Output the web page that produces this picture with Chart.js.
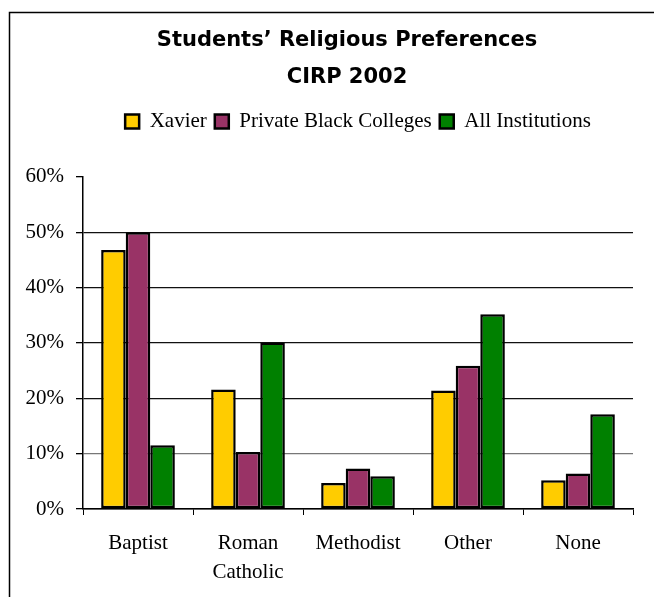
<!DOCTYPE html>
<html>
<head>
<meta charset="utf-8">
<script src="https://cdn.jsdelivr.net/npm/chart.js@4"></script>
<style>
  html, body { margin: 0; padding: 0; background: #fff; }
  #wrap { width: 654px; height: 597px; }
</style>
</head>
<body>
<div id="wrap"><canvas id="religionChart"></canvas></div>
<script>
// categories + series (percent)
const categories = ["Baptist", ["Roman", "Catholic"], "Methodist", "Other", "None"];
const xavier = [46.8, 21.6, 4.7, 21.4, 5.2];
const privateBlack = [50.0, 10.3, 7.3, 25.9, 6.4];
const allInstitutions = [11.5, 30.1, 5.9, 35.2, 17.1];
const yTicks = [0, 10, 20, 30, 40, 50, 60];

// white page + thin frame round the chart, like the original slide
const framePlugin = {
  id: "frame",
  beforeDraw(chart) {
    const c = chart.ctx;
    c.save();
    c.fillStyle = "#fff";
    c.fillRect(0, 0, chart.width, chart.height);
    c.strokeStyle = "#000";
    c.lineWidth = 1.5;
    c.strokeRect(9.5, 12.5, chart.width + 20, chart.height + 20);
    c.restore();
  }
};

const serif = "'Liberation Serif', 'Times New Roman', serif";

new Chart(document.getElementById("religionChart"), {
  type: "bar",
  data: {
    labels: categories,
    datasets: [
      { label: "Xavier", data: xavier, backgroundColor: "#FFCC00" },
      { label: "Private Black Colleges", data: privateBlack, backgroundColor: "#993366" },
      { label: "All Institutions", data: allInstitutions, backgroundColor: "#008000" }
    ].map(d => Object.assign(d, {
      borderColor: "#000",
      borderWidth: 2.5,
      borderSkipped: false,
      barPercentage: 1,
      categoryPercentage: 0.67
    }))
  },
  options: {
    responsive: true,
    maintainAspectRatio: false,
    animation: false,
    devicePixelRatio: 1,
    layout: { padding: { top: 0, right: 21, bottom: 0, left: 0 } },
    plugins: {
      title: {
        display: true,
        fullSize: false,
        // trailing spaces nudge the centred title a bit left, as in the original
        text: ["Students\u2019 Religious Preferences   ", "CIRP 2002   "],
        color: "#000",
        font: { family: "'DejaVu Sans', Arial, sans-serif", size: 21, weight: "bold", lineHeight: 1.76 },
        padding: { top: 22, bottom: 7 }
      },
      // empty subtitle used as a gap between legend and plot
      subtitle: {
        display: true,
        fullSize: false,
        text: "",
        weight: 500,
        font: { size: 1, lineHeight: 1 },
        padding: { top: 0, bottom: 34 }
      },
      legend: {
        display: true,
        fullSize: false,
        labels: {
          color: "#000",
          font: { family: serif, size: 21 },
          boxWidth: 14,
          boxHeight: 14,
          padding: 8
        }
      },
      tooltip: { enabled: false }
    },
    scales: {
      x: {
        grid: { drawOnChartArea: false, drawTicks: true, tickLength: 6, color: "#000", offset: true },
        border: { color: "#000", width: 1.5 },
        ticks: { color: "#000", font: { family: serif, size: 21, lineHeight: 1.38 }, padding: 14, maxRotation: 0 },
        afterFit(scale) { scale.height = 88; }
      },
      y: {
        min: 0,
        max: 60,
        afterBuildTicks(scale) { scale.ticks = yTicks.map(v => ({ value: v })); },
        grid: {
          color: ctx => ctx.tick && ctx.tick.value === 60 ? "rgba(0,0,0,0)" : (ctx.tick && ctx.tick.value === 10 ? "#777" : "#111"),
          tickColor: "#000",
          tickLength: 7,
          lineWidth: 1.3
        },
        border: { color: "#000", width: 1.5 },
        ticks: {
          color: "#000",
          font: { family: serif, size: 21 },
          padding: 12,
          callback: v => v + "%"
        },
        afterFit(scale) { scale.width = 83; }
      }
    }
  },
  plugins: [framePlugin]
});
</script>
</body>
</html>
